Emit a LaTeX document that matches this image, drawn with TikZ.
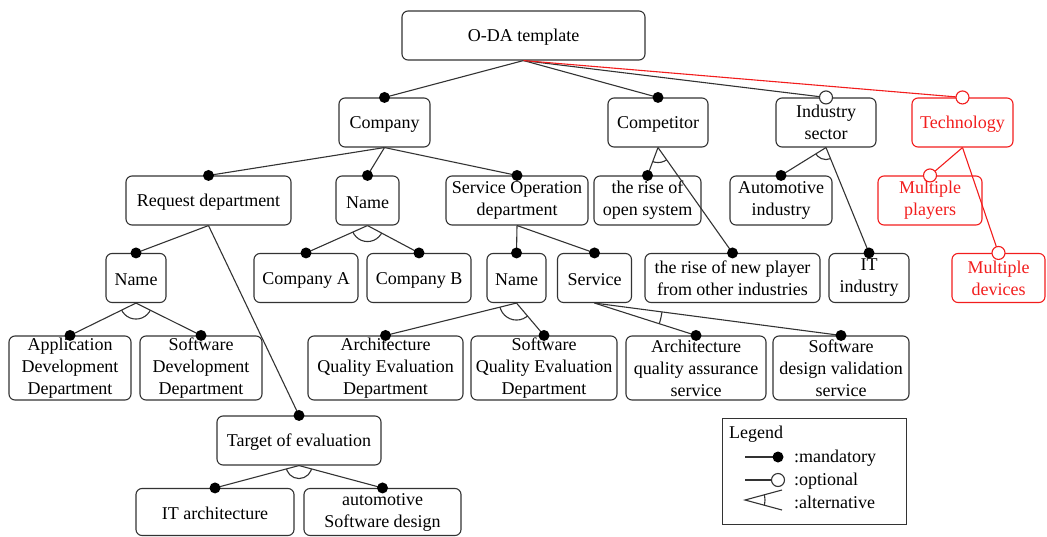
\documentclass[tikz,border=0pt]{standalone}
\usepackage{fontspec}
\setmainfont{Liberation Serif}
\usetikzlibrary{calc}
\definecolor{linec}{HTML}{333333}
\definecolor{redc}{HTML}{F21D1D}
\newcommand\fs{\fontsize{18}{22}\selectfont}
\tikzset{
  box/.style={draw=linec, rounded corners=6pt, line width=1.1pt, align=center,
              inner sep=1pt, font=\fs, minimum height=49pt,
              execute at begin node={\rule{0pt}{16pt}}},
  tallbox/.style={box, minimum height=64pt},
  redbox/.style={box, draw=redc, text=redc},
  link/.style={draw=linec, line width=1.1pt},
  redlink/.style={draw=redc, line width=1.1pt},
}
% mandatory child: line from parent to a filled dot on the child
\newcommand\mandlink[2]{%
  \draw[link] (#1.south) -- (#2.north);
  \fill[black] (#2.north) circle (5.5pt);}
% optional child: line from parent to an open circle on the child
\newcommand\optlink[3][link]{%
  \draw[#1] (#2.south) -- (#3.north);
  \filldraw[#1, fill=white] (#3.north) circle (6.5pt);}
% alternative group: arc between the two links leaving the parent
\newcommand\altarc[4]{%
  \begin{scope}
    \clip (#1.south) -- ($(#1.south)!5!(#2.north)$) -- ($(#1.south)!5!(#3.north)$) -- cycle;
    \draw[link] (#1.south) circle (#4);
  \end{scope}}
\begin{document}
\begin{tikzpicture}[x=1pt, y=-1pt]
\useasboundingbox (0,0) rectangle (1047,536);

% root
\node[box, minimum width=243pt] (oda) at (523.5,35.5) {O-DA template};

% first level
\node[box, minimum width=91pt]  (company)    at (384.5,122.5) {Company};
\node[box, minimum width=100pt] (competitor) at (658,122.5)   {Competitor};
\node[box, minimum width=100pt] (industry)   at (826,122.5)   {Industry\\sector};
\node[redbox, minimum width=101pt] (tech)    at (962.5,122.5) {Technology};

% second level
\node[box, minimum width=165pt] (reqdept)  at (208.5,200.5) {Request department};
\node[box, minimum width=63pt]  (cname)    at (367.5,200.5) {Name};
\node[box, minimum width=142pt] (svcop)    at (517,200.5)   {Service Operation\\department};
\node[box, minimum width=107pt] (riseopen) at (647.5,200.5) {the rise of\\open system};
\node[box, minimum width=102pt] (autoind)  at (781,200.5)   {Automotive\\industry};
\node[redbox, minimum width=104pt] (mplayers) at (930,200.5) {Multiple\\players};

% third level
\node[box, minimum width=60pt]  (name1)     at (136,278)    {Name};
\node[box, minimum width=104pt] (compA)     at (306,278)    {Company A};
\node[box, minimum width=104pt] (compB)     at (419,278)    {Company B};
\node[box, minimum width=59pt]  (name2)     at (516.5,278)  {Name};
\node[box, minimum width=74pt]  (service)   at (594.5,278)  {Service};
\node[box, minimum width=175pt] (newplayer) at (732.5,278)  {the rise of new player\\from other industries};
\node[box, minimum width=80pt]  (itind)     at (869,278)    {IT\\industry};
\node[redbox, minimum width=93pt] (mdevices) at (998.5,278) {Multiple\\devices};

% fourth level
\node[tallbox, minimum width=122pt] (appdev) at (70,368)    {Application\\Development\\Department};
\node[tallbox, minimum width=122pt] (swdev)  at (201,368)   {Software\\Development\\Department};
\node[tallbox, minimum width=155pt] (archqe) at (385.5,368) {Architecture\\Quality Evaluation\\Department};
\node[tallbox, minimum width=146pt] (swqe)   at (544,368)   {Software\\Quality Evaluation\\Department};
\node[tallbox, minimum width=140pt] (archqa) at (696,368)   {Architecture\\quality assurance\\service};
\node[tallbox, minimum width=136pt] (swdv)   at (841,368)   {Software\\design validation\\service};

% evaluation target
\node[box, minimum width=164pt] (target) at (299,440.5) {Target of evaluation};
\node[box, minimum width=158pt, minimum height=47pt] (itarch) at (215,512) {IT architecture};
\node[box, minimum width=157pt, minimum height=47pt] (autosw) at (382.5,512) {automotive\\Software design};

% links from the root
\mandlink{oda}{company}
\mandlink{oda}{competitor}
\optlink{oda}{industry}
\optlink[redlink]{oda}{tech}

% company
\mandlink{company}{reqdept}
\mandlink{company}{cname}
\mandlink{company}{svcop}

% competitor
\mandlink{competitor}{riseopen}
\mandlink{competitor}{newplayer}
\altarc{competitor}{riseopen}{newplayer}{15pt}

% industry sector
\mandlink{industry}{autoind}
\mandlink{industry}{itind}
\altarc{industry}{autoind}{itind}{12pt}

% technology
\optlink[redlink]{tech}{mplayers}
\optlink[redlink]{tech}{mdevices}

% request department
\mandlink{reqdept}{name1}
\mandlink{reqdept}{target}
\mandlink{name1}{appdev}
\mandlink{name1}{swdev}
\altarc{name1}{appdev}{swdev}{16pt}

% company name
\mandlink{cname}{compA}
\mandlink{cname}{compB}
\altarc{cname}{compA}{compB}{16pt}

% service operation department
\mandlink{svcop}{name2}
\mandlink{svcop}{service}
\mandlink{name2}{archqe}
\mandlink{name2}{swqe}
\altarc{name2}{archqe}{swqe}{17pt}
\mandlink{service}{archqa}
\mandlink{service}{swdv}
\altarc{service}{archqa}{swdv}{68pt}

% target of evaluation
\mandlink{target}{itarch}
\mandlink{target}{autosw}
\altarc{target}{itarch}{autosw}{13pt}

% legend
\node[draw=linec, line width=1.1pt, minimum width=184pt, minimum height=106pt,
      anchor=north west, inner sep=0pt] (legend) at (722,418) {};
\node[font=\fs, anchor=west, inner sep=0pt] (legtitle) at (729,434) {Legend};
\coordinate (m0) at (745,457);
\coordinate (m1) at (778,457);
\coordinate (o0) at (745,480);
\coordinate (o1) at (778,480);
\coordinate (a0) at (745,500);
\coordinate (a1) at (782,490);
\coordinate (a2) at (782,510);
\draw[link] (m0) -- (m1);
\fill[black] (m1) circle (5.5pt);
\draw[link] (o0) -- ($(o1)+(-6.5,0)$);
\draw[link, fill=white] (o1) circle (6.5pt);
\draw[link] (a1) -- (a0) -- (a2);
\begin{scope}
  \clip (a0) -- ($(a0)!2!(a1)$) -- ($(a0)!2!(a2)$) -- cycle;
  \draw[link] (a0) circle (20pt);
\end{scope}
\node[font=\fs, anchor=west, inner sep=0pt] (lmand) at (794,458) {:mandatory};
\node[font=\fs, anchor=west, inner sep=0pt] (lopt)  at (794,481) {:optional};
\node[font=\fs, anchor=west, inner sep=0pt] (lalt)  at (794,502) {:alternative};
\end{tikzpicture}
\end{document}
